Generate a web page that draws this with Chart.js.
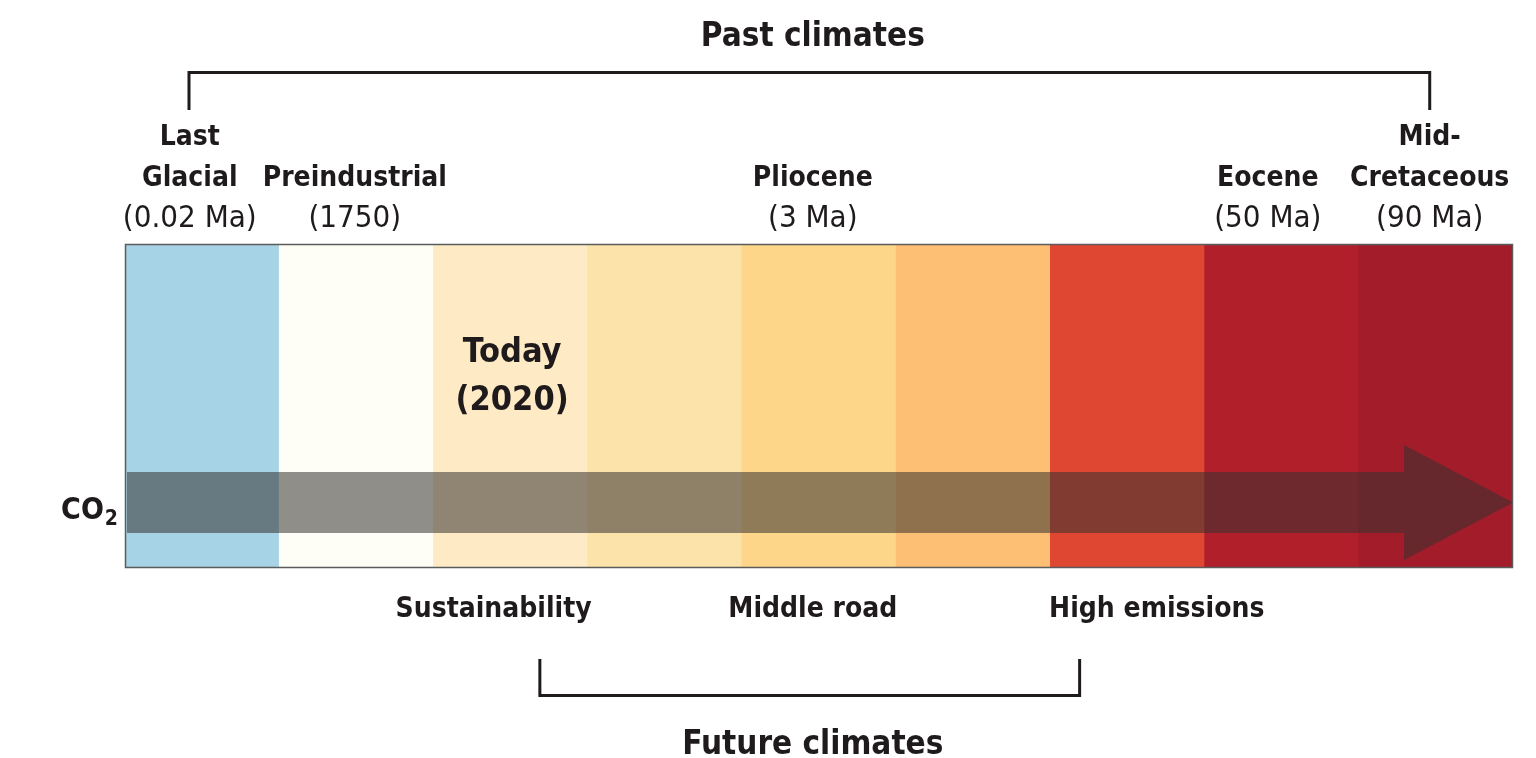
<!DOCTYPE html>
<html>
<head>
<meta charset="utf-8">
<script src="https://cdn.jsdelivr.net/npm/chart.js@4.4.0/dist/chart.umd.min.js"></script>
<style>
  html, body { margin: 0; padding: 0; background: #ffffff; }
  #wrap { width: 1536px; height: 758px; position: relative; }
</style>
</head>
<body>
<div id="wrap"><canvas id="c" width="1536" height="758"></canvas></div>
<script>
// ---- data ----
const bands = ['B1', 'B2', 'B3', 'B4', 'B5', 'B6', 'B7', 'B8', 'B9'];
const bandLow = [0, 0, 0, 0, 0, 0, 0, 0, 0];
const bandHigh = [1, 1, 1, 1, 1, 1, 1, 1, 1];
const bandColors = ['#A6D3E5', '#FEFEF6', '#FEEBC5', '#FBE3AA', '#FED68A', '#FDBF73', '#E04732', '#B11F2A', '#A31C2A'];

const pastTitle = 'Past climates';
const futureTitle = 'Future climates';
const pastNames = [['Last', 'Glacial'], ['Preindustrial'], ['Pliocene'], ['Eocene'], ['Mid-', 'Cretaceous']];
const pastAges = ['(0.02 Ma)', '(1750)', '(3 Ma)', '(50 Ma)', '(90 Ma)'];
const futureNames = ['Sustainability', 'Middle road', 'High emissions'];
const todayLines = ['Today', '(2020)'];
const co2Label = ['CO', '2'];

// ---- layout (band units along x) ----
const pastAt = [0.42, 1.49, 4.46, 7.41, 8.46];
const futureAt = [2.39, 4.46, 6.69];
const todayAt = 2.51;
const pastBracket = [0.415, 8.46];
const futureBracket = [2.69, 6.19];
const arrowY = { shaftLow: 0.108, shaftHigh: 0.296, headLow: 0.025, headHigh: 0.38, headStart: 0.9215 };

const FONT = '"DejaVu Sans Condensed", "Liberation Sans Narrow", sans-serif';
const INK = '#1f1b1c';

function bx(area, u) { return area.left + (area.right - area.left) * u / bands.length; }

const overlay = {
  id: 'overlay',
  afterDatasetsDraw(chart) {
    const { ctx, chartArea: a, scales } = chart;
    const y = scales.y;
    ctx.save();
    // CO2 arrow
    const x0 = a.left + 2;
    const xh = a.left + (a.right - a.left) * arrowY.headStart;
    const xt = a.right;
    ctx.fillStyle = 'rgba(52,50,48,0.55)';
    ctx.beginPath();
    ctx.moveTo(x0, y.getPixelForValue(arrowY.shaftHigh));
    ctx.lineTo(xh, y.getPixelForValue(arrowY.shaftHigh));
    ctx.lineTo(xh, y.getPixelForValue(arrowY.headHigh));
    ctx.lineTo(xt, y.getPixelForValue((arrowY.shaftHigh + arrowY.shaftLow) / 2));
    ctx.lineTo(xh, y.getPixelForValue(arrowY.headLow));
    ctx.lineTo(xh, y.getPixelForValue(arrowY.shaftLow));
    ctx.lineTo(x0, y.getPixelForValue(arrowY.shaftLow));
    ctx.closePath();
    ctx.fill();

    // frame
    ctx.strokeStyle = '#5b5b5b';
    ctx.lineWidth = 1.5;
    ctx.strokeRect(a.left + 0.5, a.top + 0.5, a.right - a.left - 1, a.bottom - a.top - 1);

    ctx.fillStyle = INK;
    ctx.textAlign = 'center';
    ctx.textBaseline = 'middle';

    // titles
    ctx.font = 'bold 33px ' + FONT;
    ctx.fillText(pastTitle, bx(a, 4.46), 37);
    ctx.fillText(futureTitle, bx(a, 4.46), 745);

    // brackets
    ctx.strokeStyle = INK;
    ctx.lineWidth = 3;
    ctx.lineJoin = 'miter';
    ctx.beginPath();
    ctx.moveTo(bx(a, pastBracket[0]), 110);
    ctx.lineTo(bx(a, pastBracket[0]), 72.5);
    ctx.lineTo(bx(a, pastBracket[1]), 72.5);
    ctx.lineTo(bx(a, pastBracket[1]), 110);
    ctx.stroke();
    ctx.beginPath();
    ctx.moveTo(bx(a, futureBracket[0]), 659);
    ctx.lineTo(bx(a, futureBracket[0]), 695.5);
    ctx.lineTo(bx(a, futureBracket[1]), 695.5);
    ctx.lineTo(bx(a, futureBracket[1]), 659);
    ctx.stroke();

    // past climate labels
    for (let i = 0; i < pastNames.length; i++) {
      const x = bx(a, pastAt[i]);
      const names = pastNames[i];
      ctx.font = 'bold 28px ' + FONT;
      for (let j = 0; j < names.length; j++) {
        const yy = 179 - (names.length - 1 - j) * 41;
        ctx.fillText(names[j], x, yy);
      }
      ctx.font = '31px ' + FONT;
      ctx.fillText(pastAges[i], x, 219);
    }

    // today
    ctx.font = 'bold 34px ' + FONT;
    ctx.fillText(todayLines[0], bx(a, todayAt), 353);
    ctx.fillText(todayLines[1], bx(a, todayAt), 401);

    // future labels
    ctx.font = 'bold 28px ' + FONT;
    for (let i = 0; i < futureNames.length; i++) {
      ctx.fillText(futureNames[i], bx(a, futureAt[i]), 610);
    }

    // CO2
    ctx.textAlign = 'right';
    ctx.font = 'bold 21px ' + FONT;
    const subW = ctx.measureText(co2Label[1]).width;
    ctx.fillText(co2Label[1], 118, 520);
    ctx.font = 'bold 30px ' + FONT;
    ctx.fillText(co2Label[0], 118 - subW - 1, 511);
    ctx.restore();
  }
};

new Chart(document.getElementById('c'), {
  type: 'bar',
  data: {
    labels: bands,
    datasets: [{
      data: bands.map((_, i) => [bandLow[i], bandHigh[i]]),
      backgroundColor: bandColors,
      borderWidth: 0,
      barPercentage: 1.0,
      categoryPercentage: 1.0,
      borderSkipped: false
    }]
  },
  options: {
    responsive: false,
    animation: false,
    layout: { padding: { left: 125, right: 23, top: 244, bottom: 190 } },
    plugins: { legend: { display: false }, tooltip: { enabled: false } },
    scales: {
      x: { display: false, grid: { display: false } },
      y: { display: false, min: 0, max: 1, grid: { display: false } }
    }
  },
  plugins: [overlay]
});
</script>
</body>
</html>
